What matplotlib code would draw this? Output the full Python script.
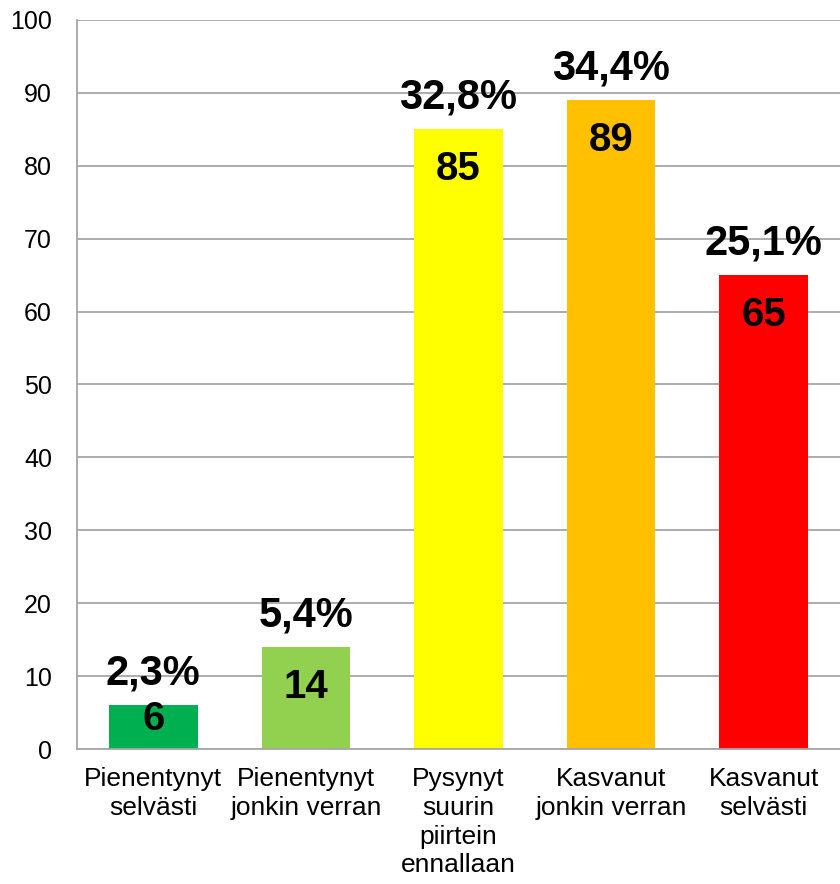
import matplotlib.pyplot as plt

plt.rcParams['font.family'] = ['Liberation Sans', 'DejaVu Sans']

categories = ['Pienentynyt\nselvästi', 'Pienentynyt\njonkin verran',
              'Pysynyt\nsuurin\npiirtein\nennallaan', 'Kasvanut\njonkin verran',
              'Kasvanut\nselvästi']
counts = [6, 14, 85, 89, 65]
percents = ['2,3%', '5,4%', '32,8%', '34,4%', '25,1%']
colors = ['#00B050', '#92D050', '#FFFF00', '#FFC000', '#FF0000']

fig = plt.figure(figsize=(8.4, 8.84), dpi=100)
ax = fig.add_axes([0.0917, 0.1527, 0.9083, 0.8247])

x = range(len(counts))
bars = ax.bar(x, counts, width=0.58, color=colors, zorder=2)

ax.set_ylim(0, 100)
ax.set_xlim(-0.5, 4.5)
ax.set_yticks(range(0, 101, 10))
ax.yaxis.grid(True, color='#A6A6A6', linewidth=1.3, zorder=0)
ax.set_axisbelow(True)

for s in ['top', 'right']:
    ax.spines[s].set_visible(False)
for s in ['left', 'bottom']:
    ax.spines[s].set_color('#A6A6A6')
    ax.spines[s].set_linewidth(1.3)

ax.tick_params(axis='y', length=0, labelsize=18, pad=18)
ax.tick_params(axis='x', length=0, labelsize=19, pad=13)
ax.set_xticks(list(x))
ax.set_xticklabels(categories, linespacing=1.25)

px_per_unit = 0.8247 * 884 / 100
for i, (v, p) in enumerate(zip(counts, percents)):
    bar_px = v * px_per_unit
    off_px = min(21, bar_px - 49)
    ax.annotate(str(v), (i, v), xytext=(0, -off_px * 0.72), textcoords='offset points',
                ha='center', va='top', fontsize=29, fontweight='bold', zorder=3)
    ax.annotate(p, (i, v), xytext=(0, 15), textcoords='offset points',
                ha='center', va='baseline', fontsize=30, fontweight='bold', zorder=3)

plt.savefig('out.png', dpi=100)
